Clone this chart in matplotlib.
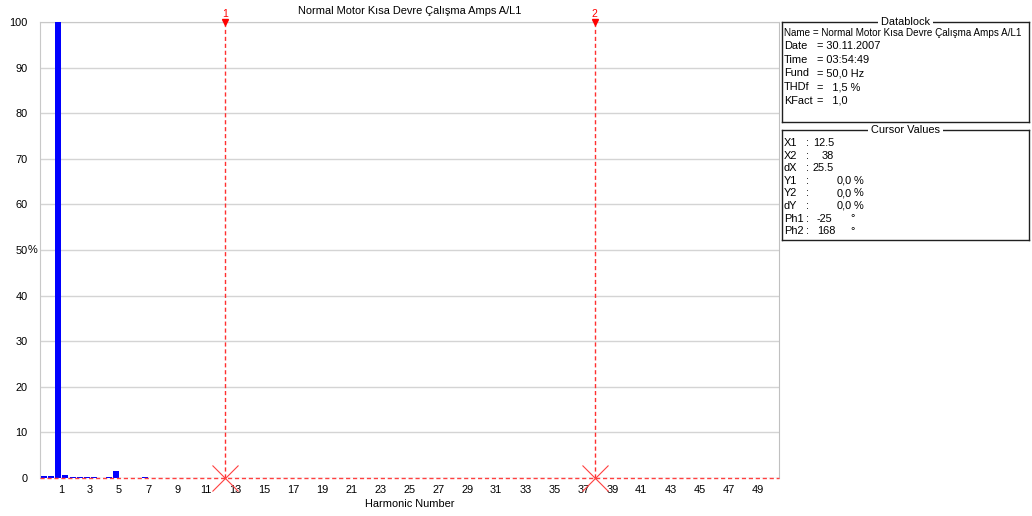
import matplotlib
matplotlib.use("Agg")
import matplotlib.pyplot as plt
import numpy as np
from matplotlib.transforms import ScaledTranslation

plt.rcParams['font.family'] = ['Liberation Sans', 'DejaVu Sans']

title = "Normal Motor Kısa Devre Çalışma Amps A/L1"
# bar positions (harmonic number, half-step interharmonics) and values in %
harm_pos = [0, 0.5, 1, 1.5, 2, 2.5, 3, 3.5, 4.5, 5, 7]
harm_val = [0.5, 0.5, 100, 0.6, 0.3, 0.3, 0.3, 0.3, 0.3, 1.5, 0.2]
xtick_vals = list(range(1, 50, 2))
ytick_vals = list(range(0, 101, 10))
cursor_x = [12.5, 38]
cursor_y = [0.0, 0.0]
cursor_names = ["1", "2"]

datablock_labels = ["Name", "Date", "Time", "Fund", "THDf", "KFact"]
datablock_values = ["Normal Motor Kısa Devre Çalışma Amps A/L1", "30.11.2007",
                    "03:54:49", "50,0 Hz", "  1,5 %", "  1,0"]
cursor_labels = ["X1", "X2", "dX", "Y1", "Y2", "dY", "Ph1", "Ph2"]
cursor_values = ["12.5", "38", "25.5", "0,0 %", "0,0 %", "0,0 %", "-25", "168"]

FS = 7.9
W, H = 1032, 516
fig = plt.figure(figsize=(W / 100, H / 100), dpi=100)
fig.patch.set_facecolor('white')

def fx(px):
    return px / W

def fy(py):
    return 1 - py / H

ax = fig.add_axes([fx(40), fy(478), fx(779) - fx(40), fy(22) - fy(478)])
ax.bar(harm_pos, harm_val, width=0.4, color='#0000ff', zorder=3)
ax.set_xlim(-0.25, 50.7)
ax.set_ylim(0, 100)
ax.set_yticks(ytick_vals)
ax.set_xticks(xtick_vals)
ax.set_xticklabels([str(v) for v in xtick_vals])
ax.tick_params(axis='both', length=0, labelsize=FS, colors='black')
ax.tick_params(axis='y', pad=9)
ax.tick_params(axis='x', pad=5)
for lbl in ax.get_xticklabels():
    lbl.set_transform(lbl.get_transform() + ScaledTranslation(3 / 100, 0, fig.dpi_scale_trans))
ax.grid(axis='y', color='#d4d4d4', linewidth=1, zorder=0)
for side in ['left', 'top']:
    ax.spines[side].set_color('#c8c8c8')
ax.spines['right'].set_color('#c0c0c0')
ax.spines['bottom'].set_visible(False)
ax.set_xlabel("Harmonic Number", fontsize=FS, labelpad=3)
ax.text(-0.0105, 0.5, "%", transform=ax.transAxes, fontsize=FS, ha='center', va='center')
ax.set_title(title, fontsize=FS, pad=6)

# cursor horizontal line at y=0
ax.axhline(cursor_y[0], color='#ff4040', linestyle=(0, (3, 2)), linewidth=1, zorder=4, clip_on=False)
for cx, cy, nm in zip(cursor_x, cursor_y, cursor_names):
    ax.axvline(cx, color='#ff3030', linestyle=(0, (3, 2)), linewidth=1, zorder=4)
    ax.plot([cx], [cy], marker='x', markersize=19, markeredgewidth=0.8,
            color='#ff4040', clip_on=False, zorder=5)
    ax.plot([cx], [100], marker='v', markersize=5, color='#ff0000', clip_on=False, zorder=5)
    ax.text(cx, 100.6, nm, color='#ff0000', fontsize=7.5, ha='center', va='bottom')

# info boxes
def draw_box(top, bottom, header):
    bx = fig.add_axes([fx(782), fy(bottom), fx(1029) - fx(782), fy(top) - fy(bottom)])
    bx.set_xticks([])
    bx.set_yticks([])
    for s in bx.spines.values():
        s.set_color('#202020')
        s.set_linewidth(1)
    bx.text(0.5, 1.0, " " + header + " ", transform=bx.transAxes, ha='center', va='center',
            fontsize=FS, bbox=dict(facecolor='white', edgecolor='none', pad=0))
    return bx

draw_box(22, 122, "Datablock")
y0 = 33
for i, (lab, val) in enumerate(zip(datablock_labels, datablock_values)):
    yy = fy(y0 + i * 13.5)
    if lab == "Name":
        fig.text(fx(784), yy, lab + " = " + val, fontsize=7.15, va='center', ha='left')
    else:
        fig.text(fx(784), yy, lab, fontsize=FS, va='center', ha='left')
        fig.text(fx(817), yy, "= " + val, fontsize=FS, va='center', ha='left')

draw_box(130, 240, "Cursor Values")
y0 = 143
for i, (lab, val) in enumerate(zip(cursor_labels, cursor_values)):
    yy = fy(y0 + i * 12.6)
    fig.text(fx(784), yy, lab, fontsize=FS, va='center', ha='left')
    fig.text(fx(806), yy, ":", fontsize=FS, va='center', ha='left')
    if lab.startswith("Ph"):
        fig.text(fx(817), yy, val, fontsize=FS, va='center', ha='left')
        fig.text(fx(850), yy, "°", fontsize=FS, va='center', ha='left')
    elif lab in ("Y1", "Y2", "dY"):
        num, unit = val.split(" ")
        fig.text(fx(852), yy, num, fontsize=FS, va='center', ha='right')
        fig.text(fx(854), yy, unit, fontsize=FS, va='center', ha='left')
    else:
        fig.text(fx(834), yy, val, fontsize=FS, va='center', ha='right')

fig.savefig("out.png", dpi=100)
